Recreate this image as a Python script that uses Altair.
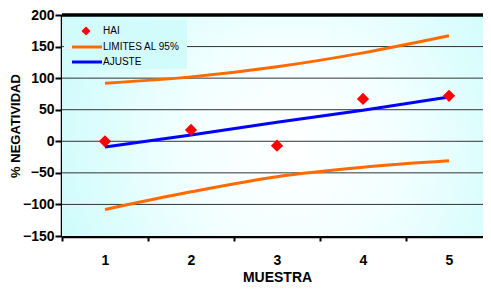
import altair as alt
import pandas as pd

muestras = [1, 2, 3, 4, 5]
hai = [0, 18, -7, 67, 72]
ajuste = [-9, 10, 30, 49, 70]
limite_sup = [92, 102, 118, 140, 167]
limite_inf = [-108, -80, -56, -41, -31]
y_ticks = [-150, -100, -50, 0, 50, 100, 150, 200]
grid_vals = [-100, -50, 0, 50, 100, 150]
legend_labels = ["HAI", "LIMITES AL 95%", "AJUSTE"]

W, H = 421, 221
FONT = "Liberation Sans"

df_hai = pd.DataFrame({"muestra": muestras, "v": hai})
df_fit = pd.DataFrame({"muestra": muestras, "v": ajuste})
df_lim = pd.DataFrame({
    "muestra": muestras * 2,
    "v": limite_sup + limite_inf,
    "banda": ["sup"] * 5 + ["inf"] * 5,
})

xs = alt.Scale(type="band", paddingInner=0, paddingOuter=0, domain=muestras, range=[0, 430])
ys = alt.Scale(domain=[-150, 200], nice=False, zero=False)

x_axis = alt.Axis(
    title="MUESTRA", titleX=215, labelAngle=0, tickBand="extent", tickSize=5, tickWidth=2,
    tickColor="black", domainWidth=3.5, domainColor="black", labelPadding=12,
    labelFontSize=14, labelFontWeight="bold", labelFont=FONT, labelColor="black",
    titleFontSize=14, titleFontWeight="bold", titleFont=FONT, titleColor="black",
    titlePadding=3, grid=False,
)
y_axis = alt.Axis(
    title="% NEGATIVIDAD", values=y_ticks, tickSize=7, tickWidth=2, tickColor="black",
    domainWidth=3.5, domainColor="black", labelPadding=1,
    labelFontSize=14, labelFontWeight="bold", labelFont=FONT, labelColor="black",
    titleFontSize=13, titleFontWeight="bold", titleFont=FONT, titleColor="black",
    titlePadding=0, grid=False,
)

X = alt.X("muestra:O", scale=xs, axis=x_axis)
Y = alt.Y("v:Q", scale=ys, axis=y_axis)

gradient = alt.RadialGradient(
    gradient="radial", x1=0.55, y1=0.55, r1=0.0, x2=0.55, y2=0.55, r2=0.75,
    stops=[alt.GradientStop(offset=0, color="#ffffff"),
           alt.GradientStop(offset=0.35, color="#f2ffff"),
           alt.GradientStop(offset=1, color="#bdfafa")],
)

one = alt.Data(values=[{}])

bg = alt.Chart(one).mark_rect(fill=gradient).encode(
    x=alt.value(0), x2=alt.value(W), y=alt.value(0), y2=alt.value(H)
)

grid = alt.Chart(pd.DataFrame({"v": grid_vals})).mark_rule(color="#333333", strokeWidth=1).encode(y=Y)
top = alt.Chart(pd.DataFrame({"v": [200]})).mark_rule(color="black", strokeWidth=3.5).encode(y=Y)

lims = alt.Chart(df_lim).mark_line(color="#ff6a00", strokeWidth=3, interpolate="monotone").encode(
    x=X, y=Y, detail="banda:N",
)
fit = alt.Chart(df_fit).mark_line(color="#0000ff", strokeWidth=3).encode(x=X, y=Y)
pts = alt.Chart(df_hai).mark_point(shape="diamond", filled=True, color="#ff0000", size=150, opacity=1).encode(
    x=X, y=Y,
)

# manual legend
leg_bg = alt.Chart(one).mark_rect(fill="#d2fcfc").encode(
    x=alt.value(2), x2=alt.value(125), y=alt.value(5), y2=alt.value(54)
)
leg_pt = alt.Chart(one).mark_point(shape="diamond", filled=True, color="#ff0000", size=80, opacity=1).encode(
    x=alt.value(24), y=alt.value(16)
)
leg_l1 = alt.Chart(one).mark_rule(color="#ff6a00", strokeWidth=3).encode(
    x=alt.value(10), x2=alt.value(40), y=alt.value(32)
)
leg_l2 = alt.Chart(one).mark_rule(color="#0000ff", strokeWidth=3).encode(
    x=alt.value(10), x2=alt.value(40), y=alt.value(47)
)
leg_texts = [
    alt.Chart(one).mark_text(
        align="left", baseline="middle", fontSize=10, font=FONT, color="black", text=t
    ).encode(x=alt.value(41), y=alt.value(py))
    for t, py in zip(legend_labels, [16, 32, 47])
]

chart = alt.layer(bg, grid, top, leg_bg, lims, fit, pts, leg_pt, leg_l1, leg_l2, *leg_texts).properties(
    width=W, height=H, background="white",
    autosize=alt.AutoSizeParams(type="none"),
    padding={"left": 54, "top": 7, "right": 0, "bottom": 48},
).configure_view(stroke=None)

chart.save("out.html", embed_options={"renderer": "svg", "actions": False})
